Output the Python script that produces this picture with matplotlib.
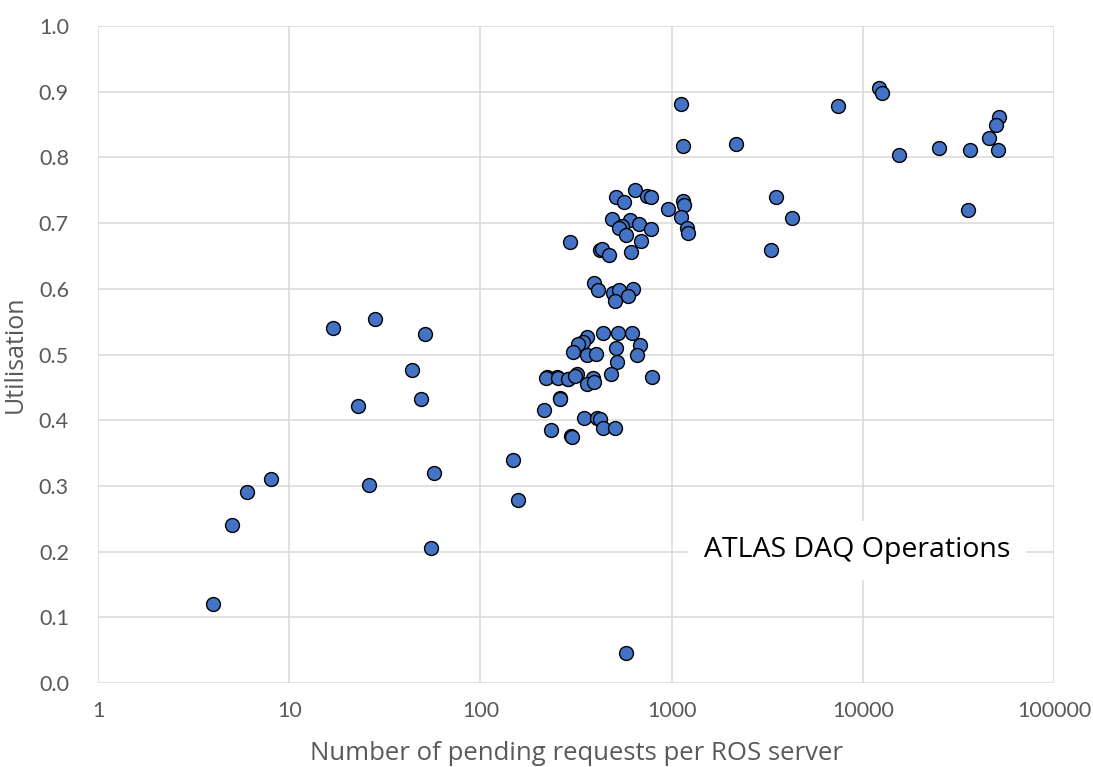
import matplotlib

matplotlib.use("Agg")
import matplotlib.pyplot as plt
from matplotlib.ticker import FixedLocator, FixedFormatter

# pending requests per ROS server (x) and utilisation (y)
pending = [4, 5, 6, 8, 17, 28, 23, 26, 44, 51, 49, 55, 57,
           148, 157, 215, 223, 234, 252, 261, 294, 296, 287,
           644, 512, 564, 741, 780, 961, 1151, 1161, 1124, 1208, 1212,
           488, 606, 678, 783, 548, 530, 575, 689,
           422, 434, 472, 611,
           394, 414, 495, 533, 630, 594, 506,
           436, 522, 623, 362, 345, 325, 684, 514, 304, 362, 403, 656, 520, 480,
           221, 254, 288, 319, 312, 389, 359, 393, 792,
           260, 349, 409, 422, 436, 508, 302,
           577, 1120, 1150, 2160,
           7447, 12160, 12560, 15400, 25130, 36220, 45530, 51520, 49750, 50750,
           35330, 3530, 4280, 3320]
utilisation = [0.120, 0.241, 0.291, 0.310, 0.540, 0.554, 0.421, 0.302, 0.476, 0.531, 0.433, 0.206, 0.320,
               0.340, 0.279, 0.416, 0.466, 0.385, 0.466, 0.434, 0.672, 0.376, 0.463,
               0.750, 0.740, 0.732, 0.741, 0.739, 0.721, 0.733, 0.728, 0.710, 0.692, 0.685,
               0.707, 0.705, 0.699, 0.691, 0.695, 0.693, 0.682, 0.673,
               0.659, 0.660, 0.651, 0.656,
               0.609, 0.598, 0.594, 0.598, 0.600, 0.589, 0.582,
               0.533, 0.532, 0.532, 0.527, 0.519, 0.516, 0.514, 0.510, 0.504, 0.499, 0.501, 0.500, 0.488, 0.471,
               0.465, 0.465, 0.462, 0.470, 0.467, 0.465, 0.455, 0.458, 0.466,
               0.433, 0.404, 0.403, 0.402, 0.388, 0.388, 0.375,
               0.046, 0.881, 0.817, 0.821,
               0.878, 0.906, 0.898, 0.804, 0.815, 0.811, 0.830, 0.861, 0.849, 0.812,
               0.720, 0.740, 0.708, 0.659]

x_ticks = [1, 10, 100, 1000, 10000, 100000]
x_labels = ["1", "10", "100", "1000", "10000", "100000"]
y_ticks = [i / 10 for i in range(11)]
y_labels = [f"{v:.1f}" for v in y_ticks]

GREY = "#595959"

fig = plt.figure(figsize=(10.93, 7.67), dpi=100)
ax = fig.add_axes([0.0897, 0.1095, 0.8746, 0.8566])
ax.set_xscale("log")
ax.set_xlim(1, 100000)
ax.set_ylim(0, 1.0)

ax.xaxis.set_major_locator(FixedLocator(x_ticks))
ax.xaxis.set_major_formatter(FixedFormatter(x_labels))
ax.xaxis.set_minor_locator(FixedLocator([]))
ax.yaxis.set_major_locator(FixedLocator(y_ticks))
ax.yaxis.set_major_formatter(FixedFormatter(y_labels))

ax.grid(True, color="#d9d9d9", lw=1.1, zorder=0)
ax.set_axisbelow(True)
for s in ax.spines.values():
    s.set_visible(False)
ax.tick_params(length=0, labelcolor=GREY, labelsize=15.5, pad=13)
ax.tick_params(axis="y", pad=21)
for lab in ax.get_xticklabels() + ax.get_yticklabels():
    lab.set_family("Lato")

ax.scatter(pending, utilisation, s=100, c="#4472C4", edgecolors="black",
           linewidths=1.0, zorder=3, clip_on=False)

ax.set_xlabel("Number of pending requests per ROS server", fontsize=18.5,
              color=GREY, family="Open Sans", labelpad=14)
ax.set_ylabel("Utilisation", fontsize=18, color=GREY, family="Open Sans", labelpad=8)

ax.text(0.794, 0.202, "ATLAS DAQ Operations", transform=ax.transAxes,
        ha="center", va="center", fontsize=20.5, family="Open Sans", color="black",
        bbox=dict(facecolor="white", edgecolor="none", pad=11), zorder=4)

fig.savefig("out.png", dpi=100)
